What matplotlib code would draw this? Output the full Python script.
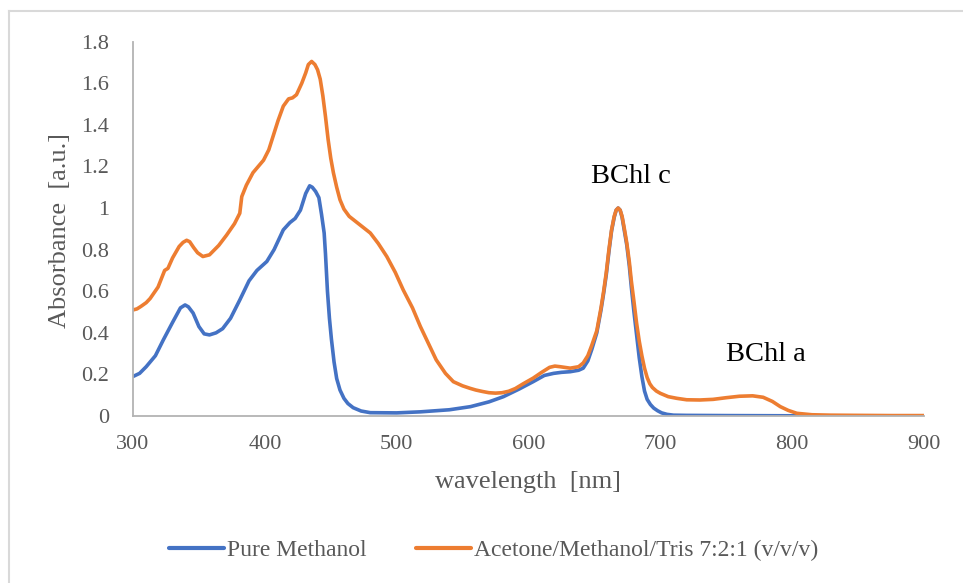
import matplotlib
matplotlib.use("Agg")
import matplotlib.pyplot as plt
from matplotlib.lines import Line2D

# Absorption spectra (wavelength in nm, absorbance in a.u.)
methanol_nm = [300, 305, 310, 317, 323, 330, 336, 339.5, 342, 345.6, 350, 354, 358, 363,
               368, 374, 381, 388, 394, 401.5, 407, 414, 419, 423, 427, 431, 434, 436,
               438.5, 441, 443, 445, 446, 447.5, 449, 450.5, 452.5, 454.5, 457, 460, 463,
               467, 473, 480, 500, 518, 540, 556, 570, 581, 593, 603.5, 612, 619, 625,
               631.6, 638, 641.5, 645, 648, 651.8, 655, 657, 659, 661, 663, 665, 666.5,
               668, 669.5, 671, 673, 674.6, 676.5, 678, 680, 682, 684, 686, 688, 690,
               692.5, 695, 698, 701, 705, 710, 720, 750, 800, 900]
methanol_abs = [0.19, 0.205, 0.237, 0.29, 0.366, 0.45, 0.52, 0.534, 0.525, 0.495, 0.43,
                0.395, 0.39, 0.40, 0.42, 0.47, 0.558, 0.65, 0.70, 0.743, 0.80, 0.895,
                0.93, 0.95, 0.99, 1.07, 1.107, 1.10, 1.08, 1.05, 0.97, 0.88, 0.78, 0.60,
                0.47, 0.37, 0.26, 0.18, 0.125, 0.085, 0.06, 0.04, 0.024, 0.016, 0.015,
                0.02, 0.03, 0.045, 0.068, 0.093, 0.13, 0.165, 0.195, 0.205, 0.21, 0.213,
                0.22, 0.23, 0.265, 0.32, 0.40, 0.51, 0.59, 0.68, 0.79, 0.89, 0.955, 0.99,
                1.0, 0.99, 0.955, 0.88, 0.82, 0.72, 0.62, 0.50, 0.39, 0.28, 0.19, 0.12,
                0.08, 0.055, 0.038, 0.025, 0.015, 0.008, 0.004, 0.003, 0.002, 0.001,
                0.001]

mixture_nm = [300, 303, 306, 310, 313, 319, 324, 326.5, 330, 335, 338, 340.7, 343, 346,
              349, 353, 358, 365, 371, 377, 381, 382.5, 386, 391, 399, 403, 406, 410,
              414, 418, 421, 424, 428, 431, 433, 435.5, 438, 440, 442, 444, 446, 448,
              450, 452, 454.5, 457, 460, 464, 472, 480, 486, 492.5, 499, 505, 512, 518,
              524, 530, 537, 543, 550, 555.7, 560, 565, 570, 575, 580, 585, 590, 596,
              603.5, 610, 616, 620, 624, 631.6, 638, 641.5, 645, 648, 651.8, 655, 657,
              659, 661, 663, 665, 666.5, 668, 669.5, 671, 673, 674.6, 676.5, 678, 680,
              682, 684, 686, 688, 690, 692, 694, 697, 700, 706, 712.5, 720, 730, 740,
              750, 760, 770, 778, 785, 791, 797, 803.5, 815, 829, 850, 875, 900]
mixture_abs = [0.51, 0.515, 0.527, 0.545, 0.565, 0.62, 0.70, 0.71, 0.76, 0.815, 0.835,
               0.845, 0.838, 0.81, 0.785, 0.767, 0.775, 0.82, 0.87, 0.925, 0.975, 1.055,
               1.11, 1.17, 1.23, 1.28, 1.34, 1.42, 1.49, 1.525, 1.53, 1.545, 1.60, 1.65,
               1.69, 1.705, 1.69, 1.665, 1.62, 1.54, 1.44, 1.33, 1.24, 1.17, 1.10, 1.04,
               0.995, 0.96, 0.92, 0.88, 0.83, 0.767, 0.69, 0.606, 0.52, 0.43, 0.35, 0.27,
               0.205, 0.165, 0.145, 0.133, 0.125, 0.118, 0.112, 0.11, 0.112, 0.119,
               0.132, 0.155, 0.182, 0.21, 0.234, 0.24, 0.237, 0.23, 0.237, 0.255, 0.29,
               0.34, 0.41, 0.52, 0.60, 0.69, 0.80, 0.895, 0.96, 0.99, 1.0, 0.99, 0.96,
               0.89, 0.83, 0.74, 0.65, 0.55, 0.446, 0.36, 0.29, 0.23, 0.185, 0.155, 0.137,
               0.12, 0.109, 0.093, 0.085, 0.078, 0.077, 0.08, 0.088, 0.095, 0.097, 0.09,
               0.07, 0.045, 0.027, 0.013, 0.006, 0.004, 0.003, 0.002, 0.002]

series_labels = ["Pure Methanol", "Acetone/Methanol/Tris 7:2:1 (v/v/v)"]
x_ticks = [300, 400, 500, 600, 700, 800, 900]
y_ticks = [0, 0.2, 0.4, 0.6, 0.8, 1.0, 1.2, 1.4, 1.6, 1.8]
y_tick_labels = ["0", "0.2", "0.4", "0.6", "0.8", "1", "1.2", "1.4", "1.6", "1.8"]
peak_labels = [("BChl c", 677.8, 1.15), ("BChl a", 780.3, 0.294)]

BLUE = "#4472C4"
ORANGE = "#ED7D31"
GREY_TXT = "#595959"
GREY_AX = "#B3B3B3"

plt.rcParams["font.family"] = ["Liberation Serif", "DejaVu Serif"]

W, H = 963, 583
fig = plt.figure(figsize=(W / 100, H / 100), dpi=100)
fig.patch.set_facecolor("white")

# chart-area frame
fig.add_artist(Line2D([9 / W, 1.0], [1 - 11 / H, 1 - 11 / H], transform=fig.transFigure,
                      color="#D9D9D9", lw=1.5))
fig.add_artist(Line2D([9 / W, 9 / W], [0.0, 1 - 11 / H], transform=fig.transFigure,
                      color="#D9D9D9", lw=1.5))

left, right, bottom, top = 133, 924, 416, 41.7
ax = fig.add_axes([left / W, 1 - bottom / H, (right - left) / W, (bottom - top) / H])

ax.plot(methanol_nm, methanol_abs, color=BLUE, lw=2.6, solid_capstyle="round",
        solid_joinstyle="round", label=series_labels[0])
ax.plot(mixture_nm, mixture_abs, color=ORANGE, lw=2.6, solid_capstyle="round",
        solid_joinstyle="round", label=series_labels[1])

ax.set_xlim(300, 900)
ax.set_ylim(0, 1.8)
ax.set_xticks(x_ticks)
ax.set_yticks(y_ticks)
ax.set_yticklabels(y_tick_labels)
ax.tick_params(axis="both", length=0, labelsize=16, labelcolor=GREY_TXT)
ax.tick_params(axis="y", pad=17)
ax.tick_params(axis="x", pad=14)

for side in ("top", "right"):
    ax.spines[side].set_visible(False)
for side in ("left", "bottom"):
    ax.spines[side].set_color(GREY_AX)
    ax.spines[side].set_linewidth(1.3)

for text, xv, yv in peak_labels:
    ax.text(xv, yv, text, fontsize=20.5, color="black", ha="center", va="center")

fig.text(60 / W, 1 - 230 / H, "Absorbance  [a.u.]", rotation=90, fontsize=19,
         color=GREY_TXT, ha="center", va="center")
fig.text(528 / W, 1 - 482 / H, "wavelength  [nm]", fontsize=19, color=GREY_TXT,
         ha="center", va="center")

leg = fig.legend(loc="center", bbox_to_anchor=(494 / W, 1 - 550 / H), ncol=2,
                 frameon=False, fontsize=17, handlelength=2.3, handletextpad=0.15,
                 columnspacing=2.1)
for t in leg.get_texts():
    t.set_color(GREY_TXT)
for h in leg.legend_handles:
    h.set_linewidth(3)

fig.savefig("out.png", dpi=100, facecolor="white")
